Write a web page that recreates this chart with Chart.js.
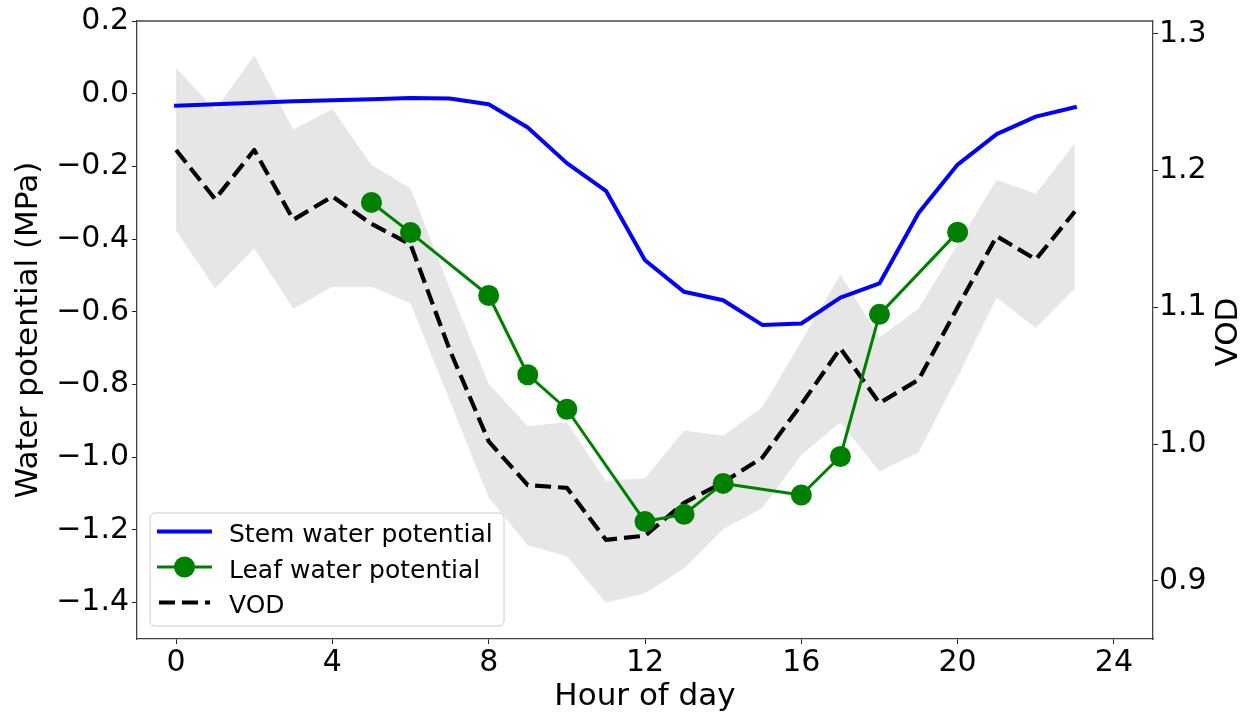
<!DOCTYPE html>
<html>
<head>
<meta charset="utf-8">
<script src="https://cdn.jsdelivr.net/npm/chart.js@4/dist/chart.umd.min.js"></script>
<style>
  html, body { margin: 0; padding: 0; background: #ffffff; }
  #wrap { width: 1253px; height: 719px; }
</style>
</head>
<body>
<div id="wrap"><canvas id="c" width="1253" height="719"></canvas></div>
<script>
// ---------------- data ----------------
const hours = [0, 1, 2, 3, 4, 5, 6, 7, 8, 9, 10, 11, 12, 13, 14, 15, 16, 17, 18, 19, 20, 21, 22, 23];
const stemWP = [-0.033, -0.029, -0.025, -0.021, -0.018, -0.015, -0.012, -0.013, -0.029, -0.093, -0.191, -0.267,
                -0.458, -0.545, -0.568, -0.636, -0.632, -0.561, -0.522, -0.328, -0.195, -0.111, -0.063, -0.037];
const leafHours = [5, 6, 8, 9, 10, 12, 13, 14, 16, 17, 18, 20];
const leafWP = [-0.299, -0.382, -0.555, -0.773, -0.868, -1.177, -1.157, -1.072, -1.104, -0.998, -0.607, -0.381];
const vod = [1.215, 1.179, 1.215, 1.164, 1.181, 1.161, 1.146, 1.069, 1.002, 0.970, 0.968, 0.930,
             0.933, 0.957, 0.972, 0.990, 1.029, 1.070, 1.030, 1.047, 1.100, 1.152, 1.135, 1.170];
const vodUpper = [1.275, 1.244, 1.284, 1.230, 1.245, 1.204, 1.187, 1.114, 1.044, 1.013, 1.016, 0.973,
                  0.975, 1.010, 1.006, 1.027, 1.075, 1.124, 1.078, 1.099, 1.146, 1.193, 1.183, 1.220];
const vodLower = [1.156, 1.114, 1.143, 1.099, 1.115, 1.115, 1.103, 1.032, 0.961, 0.926, 0.918, 0.884,
                  0.891, 0.909, 0.938, 0.953, 0.992, 1.016, 0.980, 0.994, 1.049, 1.107, 1.085, 1.114];
const xTicks = [0, 4, 8, 12, 16, 20, 24];
const leftTicks = [0.2, 0.0, -0.2, -0.4, -0.6, -0.8, -1.0, -1.2, -1.4];
const rightTicks = [0.9, 1.0, 1.1, 1.2, 1.3];
const labels = ['Stem water potential', 'Leaf water potential', 'VOD'];
const xTitle = 'Hour of day';
const yLeftTitle = 'Water potential (MPa)';
const yRightTitle = 'VOD';

// ---------------- helpers ----------------
const pts = (xs, ys) => xs.map((x, i) => ({ x: x, y: ys[i] }));
const fmt1 = (v) => Number(v).toFixed(1).replace('-', '\u2212');
const FONT = "'DejaVu Sans', 'Liberation Sans', sans-serif";
const BLUE = '#0000ff', GREEN = '#008000', BAND = 'rgba(128,128,128,0.2)';
const DASH = [16, 7];

const frameAndExtras = {
  id: 'frameAndExtras',
  afterDraw(chart) {
    const ctx = chart.ctx;
    const a = chart.chartArea;
    ctx.save();
    // top spine
    ctx.strokeStyle = '#444';
    ctx.lineWidth = 1.3;
    ctx.beginPath();
    ctx.moveTo(a.left, a.top);
    ctx.lineTo(a.right, a.top);
    ctx.stroke();

    // right axis title, rotated like matplotlib (reads bottom to top)
    ctx.fillStyle = '#000';
    ctx.font = '31px ' + FONT;
    ctx.textAlign = 'center';
    ctx.textBaseline = 'middle';
    ctx.translate(a.right + 75.5, (a.top + a.bottom) / 2 + 2);
    ctx.rotate(-Math.PI / 2);
    ctx.fillText(yRightTitle, 0, 0);
    ctx.restore();

    // legend (lower left, inside axes)
    ctx.save();
    const lx = a.left + 13, lw = 354, lh = 113;
    const ly = a.bottom - 13 - lh;
    const r = 5;
    ctx.beginPath();
    ctx.moveTo(lx + r, ly);
    ctx.lineTo(lx + lw - r, ly);
    ctx.arcTo(lx + lw, ly, lx + lw, ly + r, r);
    ctx.lineTo(lx + lw, ly + lh - r);
    ctx.arcTo(lx + lw, ly + lh, lx + lw - r, ly + lh, r);
    ctx.lineTo(lx + r, ly + lh);
    ctx.arcTo(lx, ly + lh, lx, ly + lh - r, r);
    ctx.lineTo(lx, ly + r);
    ctx.arcTo(lx, ly, lx + r, ly, r);
    ctx.closePath();
    ctx.fillStyle = 'rgba(255,255,255,0.8)';
    ctx.fill();
    ctx.strokeStyle = '#cccccc';
    ctx.lineWidth = 1;
    ctx.stroke();

    const hx0 = lx + 7, hx1 = lx + 62;
    const rows = [ly + 18.5, ly + 54, ly + 89.5];
    const ds = chart.data.datasets;
    // row 1 : stem
    ctx.strokeStyle = BLUE; ctx.lineWidth = 4; ctx.lineCap = 'butt';
    ctx.beginPath(); ctx.moveTo(hx0, rows[0]); ctx.lineTo(hx1, rows[0]); ctx.stroke();
    // row 2 : leaf
    ctx.strokeStyle = GREEN; ctx.lineWidth = 3;
    ctx.beginPath(); ctx.moveTo(hx0, rows[1]); ctx.lineTo(hx1, rows[1]); ctx.stroke();
    ctx.fillStyle = GREEN;
    ctx.beginPath(); ctx.arc((hx0 + hx1) / 2, rows[1], 10.5, 0, Math.PI * 2); ctx.fill();
    // row 3 : VOD
    ctx.strokeStyle = '#000'; ctx.lineWidth = 4.2; ctx.setLineDash(DASH);
    ctx.beginPath(); ctx.moveTo(hx0 + 2, rows[2]); ctx.lineTo(hx1 - 2, rows[2]); ctx.stroke();
    ctx.setLineDash([]);

    ctx.fillStyle = '#000';
    ctx.font = '25px ' + FONT;
    ctx.textAlign = 'left';
    ctx.textBaseline = 'alphabetic';
    const txt = [ds[1].label, ds[0].label, ds[2].label];
    for (let i = 0; i < 3; i++) ctx.fillText(txt[i], lx + 79, rows[i] + 10.5);
    ctx.restore();
  }
};

const chart = new Chart(document.getElementById('c'), {
  type: 'line',
  data: {
    datasets: [
      {
        label: labels[1], data: pts(leafHours, leafWP), yAxisID: 'y',
        borderColor: GREEN, backgroundColor: GREEN, borderWidth: 3,
        pointRadius: 10.5, pointHoverRadius: 10.5, pointBackgroundColor: GREEN, pointBorderWidth: 0,
        tension: 0, fill: false, borderJoinStyle: 'round', borderCapStyle: 'square'
      },
      {
        label: labels[0], data: pts(hours, stemWP), yAxisID: 'y',
        borderColor: BLUE, backgroundColor: BLUE, borderWidth: 4,
        pointRadius: 0, tension: 0, fill: false, borderJoinStyle: 'round', borderCapStyle: 'square'
      },
      {
        label: labels[2], data: pts(hours, vod), yAxisID: 'y1',
        borderColor: '#000000', backgroundColor: '#000000', borderWidth: 4.2, borderDash: DASH,
        pointRadius: 0, tension: 0, fill: false, borderJoinStyle: 'round', borderCapStyle: 'butt'
      },
      {
        label: 'VOD upper', data: pts(hours, vodUpper), yAxisID: 'y1',
        borderWidth: 0, borderColor: 'rgba(0,0,0,0)', backgroundColor: BAND,
        pointRadius: 0, tension: 0, fill: '+1'
      },
      {
        label: 'VOD lower', data: pts(hours, vodLower), yAxisID: 'y1',
        borderWidth: 0, borderColor: 'rgba(0,0,0,0)', backgroundColor: BAND,
        pointRadius: 0, tension: 0, fill: false
      }
    ]
  },
  options: {
    responsive: false,
    devicePixelRatio: 1,
    animation: false,
    events: [],
    layout: { padding: { top: 19, left: 0, right: 0, bottom: 0 } },
    plugins: { legend: { display: false }, tooltip: { enabled: false } },
    scales: {
      x: {
        type: 'linear', position: 'bottom', min: -1, max: 25,
        afterBuildTicks: (s) => { s.ticks = xTicks.map(v => ({ value: v })); },
        afterFit: (s) => { s.height = 80; },
        ticks: { color: '#000', font: { family: FONT, size: 30 }, padding: 1, maxRotation: 0, autoSkip: false,
                 callback: (v) => String(v) },
        grid: { display: true, drawOnChartArea: false, drawTicks: true, tickLength: 5, tickColor: '#222', tickWidth: 1 },
        border: { display: true, color: '#444', width: 1.3 },
        title: { display: true, text: xTitle, color: '#000', font: { family: FONT, size: 31 }, padding: { top: 0, bottom: 3 } }
      },
      y: {
        type: 'linear', position: 'left', min: -1.5, max: 0.2,
        afterBuildTicks: (s) => { s.ticks = leftTicks.map(v => ({ value: v })); },
        afterFit: (s) => { s.width = 137; },
        ticks: { color: '#000', font: { family: FONT, size: 30 }, padding: 3, autoSkip: false, callback: (v) => fmt1(v) },
        grid: { display: true, drawOnChartArea: false, drawTicks: true, tickLength: 5, tickColor: '#222', tickWidth: 1 },
        border: { display: true, color: '#444', width: 1.3 },
        title: { display: true, text: yLeftTitle, color: '#000', font: { family: FONT, size: 31 }, padding: { top: 10, bottom: 0 } }
      },
      y1: {
        type: 'linear', position: 'right', min: 0.8575, max: 1.3093,
        afterBuildTicks: (s) => { s.ticks = rightTicks.map(v => ({ value: v })); },
        afterFit: (s) => { s.width = 100; },
        ticks: { color: '#000', font: { family: FONT, size: 30 }, padding: 1, autoSkip: false, callback: (v) => fmt1(v) },
        grid: { display: true, drawOnChartArea: false, drawTicks: true, tickLength: 5, tickColor: '#222', tickWidth: 1 },
        border: { display: true, color: '#444', width: 1.3 }
      }
    }
  },
  plugins: [frameAndExtras]
});
</script>
</body>
</html>
